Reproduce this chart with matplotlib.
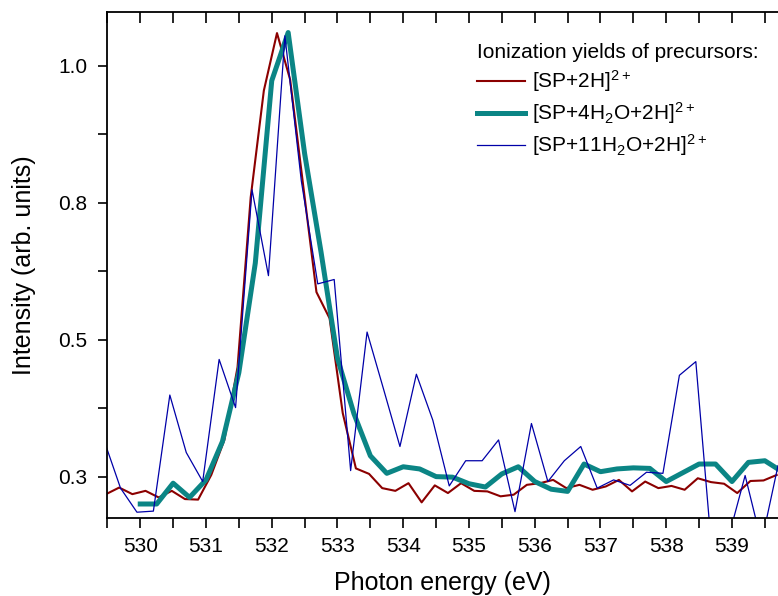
import matplotlib
matplotlib.use("Agg")
import matplotlib.pyplot as plt
from matplotlib.ticker import MultipleLocator, FixedLocator

plt.rcParams['font.family'] = ['Liberation Sans', 'DejaVu Sans']
plt.rcParams['mathtext.default'] = 'regular'

# [SP+2H]2+
x_sp = [529.48, 529.68, 529.88, 530.08, 530.28, 530.48, 530.68, 530.88, 531.08, 531.28,
        531.48, 531.68, 531.88, 532.08, 532.28, 532.48, 532.68, 532.88, 533.08, 533.28,
        533.48, 533.68, 533.88, 534.08, 534.28, 534.48, 534.68, 534.88, 535.08, 535.28,
        535.48, 535.68, 535.88, 536.08, 536.28, 536.48, 536.68, 536.88, 537.08, 537.28,
        537.48, 537.68, 537.88, 538.08, 538.28, 538.48, 538.68, 538.88, 539.08, 539.28,
        539.48, 539.68]
y_sp = [0.218, 0.230, 0.218, 0.224, 0.212, 0.224, 0.209, 0.208, 0.253, 0.317,
        0.450, 0.760, 0.955, 1.060, 0.975, 0.780, 0.587, 0.539, 0.366, 0.265,
        0.255, 0.229, 0.224, 0.238, 0.203, 0.234, 0.220, 0.238, 0.224, 0.223,
        0.214, 0.217, 0.235, 0.238, 0.244, 0.229, 0.235, 0.226, 0.232, 0.244,
        0.223, 0.241, 0.229, 0.233, 0.226, 0.247, 0.240, 0.237, 0.220, 0.242,
        0.243, 0.253]

# [SP+4H2O+2H]2+
x_4w = [530.00, 530.25, 530.50, 530.75, 531.00, 531.25, 531.50, 531.75, 532.00, 532.25,
        532.50, 532.75, 533.00, 533.25, 533.50, 533.75, 534.00, 534.25, 534.50, 534.75,
        535.00, 535.25, 535.50, 535.75, 536.00, 536.25, 536.50, 536.75, 537.00, 537.25,
        537.50, 537.75, 538.00, 538.25, 538.50, 538.75, 539.00, 539.25, 539.50, 539.75]
y_4w = [0.200, 0.200, 0.238, 0.212, 0.244, 0.314, 0.440, 0.640, 0.973, 1.061,
        0.840, 0.660, 0.466, 0.365, 0.288, 0.256, 0.268, 0.264, 0.250, 0.249,
        0.237, 0.231, 0.255, 0.268, 0.241, 0.227, 0.223, 0.273, 0.259, 0.264,
        0.266, 0.265, 0.241, 0.257, 0.273, 0.273, 0.241, 0.276, 0.279, 0.260]

# [SP+11H2O+2H]2+
x_11w = [529.45, 529.70, 529.95, 530.20, 530.45, 530.70, 530.95, 531.20, 531.45, 531.70,
         531.95, 532.20, 532.45, 532.70, 532.95, 533.20, 533.45, 533.70, 533.95, 534.20,
         534.45, 534.70, 534.95, 535.20, 535.45, 535.70, 535.95, 536.20, 536.45, 536.70,
         536.95, 537.20, 537.45, 537.70, 537.95, 538.20, 538.45, 538.70, 538.95, 539.20,
         539.45, 539.70]
y_11w = [0.316, 0.229, 0.185, 0.187, 0.399, 0.294, 0.241, 0.464, 0.376, 0.774,
         0.617, 1.055, 0.790, 0.602, 0.610, 0.261, 0.514, 0.410, 0.305, 0.437,
         0.353, 0.233, 0.279, 0.279, 0.317, 0.186, 0.347, 0.241, 0.279, 0.305,
         0.229, 0.244, 0.234, 0.258, 0.256, 0.435, 0.460, 0.104, 0.140, 0.252,
         0.130, 0.270]

labels = [r'[SP+2H]$^{2+}$', r'[SP+4H$_2$O+2H]$^{2+}$', r'[SP+11H$_2$O+2H]$^{2+}$']
colors = ['#8B0000', '#0B8585', '#0000A8']
ytick_vals = [0.25, 0.5, 0.75, 1.0]
ytick_labels = ['0.3', '0.5', '0.8', '1.0']

fig = plt.figure(figsize=(7.78, 5.96), dpi=100)
ax = fig.add_axes([0.138, 0.1314, 0.862, 0.848])

ax.plot(x_sp, y_sp, color=colors[0], lw=1.5, label=labels[0])
ax.plot(x_4w, y_4w, color=colors[1], lw=3.6, label=labels[1])
ax.plot(x_11w, y_11w, color=colors[2], lw=0.9, label=labels[2])

ax.set_xlim(529.5, 539.7)
ax.set_ylim(0.175, 1.098)

ax.xaxis.set_major_locator(MultipleLocator(1))
ax.xaxis.set_minor_locator(MultipleLocator(0.5))
ax.yaxis.set_major_locator(FixedLocator(ytick_vals))
ax.set_yticklabels(ytick_labels)
ax.yaxis.set_minor_locator(FixedLocator([0.375, 0.625, 0.875]))

ax.spines['right'].set_visible(False)
for s in ['left', 'bottom', 'top']:
    ax.spines[s].set_linewidth(1.3)

ax.tick_params(axis='x', which='both', direction='out', length=7, width=1.2,
               labelsize=15, top=True, pad=7)
ax.tick_params(axis='y', which='both', direction='out', length=6.5, width=1.2,
               labelsize=15, right=False, pad=8)
# top ticks point into the plot
for t in ax.xaxis.get_major_ticks() + ax.xaxis.get_minor_ticks():
    t.tick2line.set_marker(3)
    t.tick2line.set_markersize(8)

ax.set_xlabel('Photon energy (eV)', fontsize=18, labelpad=11)
ax.set_ylabel('Intensity (arb. units)', fontsize=18, labelpad=16)

leg = ax.legend(title='Ionization yields of precursors:', loc='upper left',
                bbox_to_anchor=(0.530, 0.968), frameon=False, fontsize=15,
                title_fontsize=15, alignment='left', handlelength=2.3,
                handletextpad=0.3, labelspacing=0.3, borderpad=0.2)

fig.savefig('out.png', dpi=100)
